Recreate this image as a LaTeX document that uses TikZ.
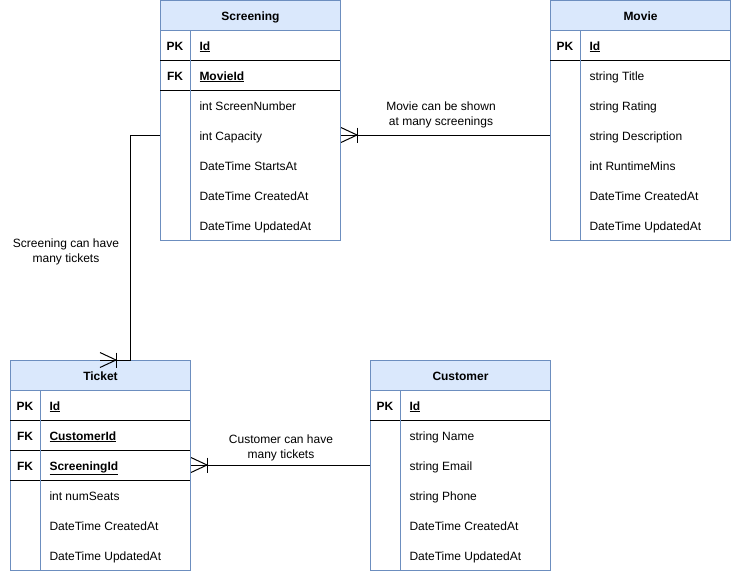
\documentclass[tikz,border=0pt]{standalone}
\usepackage{fontspec}
\setmainfont{Liberation Sans}
\usetikzlibrary{calc,positioning}

\newcommand{\erfont}{\fontsize{12}{15}\selectfont}

\begin{document}
\begin{tikzpicture}[
  x=1pt, y=-1pt,
  line width=1pt,
  crowfoot/.pic={
    \draw (0,-7.5) -- (16,0) -- (0,7.5);
    \draw (16,-7.5) -- (16,7.5);
  }
]

  \path[use as bounding box] (0,0) rectangle (731,571);

  \definecolor{hdrfill}{HTML}{DAE8FC}
  \definecolor{hdrline}{HTML}{6C8EBF}

  \tikzstyle{tablebox}=[draw=hdrline,fill=white,rectangle,anchor=north west,minimum width=180pt,inner sep=0pt]
  \tikzstyle{headbox}=[draw=hdrline,fill=hdrfill,rectangle,anchor=north,minimum width=180pt,minimum height=30pt,inner sep=0pt,text height=11pt,text depth=1pt,font=\erfont\bfseries]
  \tikzstyle{keynode}=[inner sep=0pt,text height=11pt,text depth=1pt,font=\erfont\bfseries]
  \tikzstyle{keyfield}=[anchor=west,inner sep=0pt,text height=11pt,text depth=1pt,font=\erfont\bfseries]
  \tikzstyle{fieldnode}=[anchor=west,inner sep=0pt,text height=11pt,text depth=1pt,font=\erfont]
  \tikzstyle{keyline}=[draw,black]
  \tikzstyle{coldiv}=[draw,hdrline]
  \tikzstyle{relation}=[draw,black]
  \tikzstyle{rellab}=[align=center,inner sep=0pt,font=\erfont]

  % Screening
  \node[tablebox,minimum height=240pt] (scr) at (160,0) {};
  \node[headbox] (scrhead) at (scr.north) {Screening};
  \node[keynode] (scrpk) at (175,45) {PK};
  \node[keyfield] (scrid) at (199,45) {\underline{Id}};
  \node[keynode] (scrfk) at (175,75) {FK};
  \node[keyfield] (scrmovie) at (199,75) {\underline{MovieId}};
  \node[fieldnode] (scrnum) at (199,105) {int ScreenNumber};
  \node[fieldnode] (scrcap) at (199,135) {int Capacity};
  \node[fieldnode] (scrstart) at (199,165) {DateTime StartsAt};
  \node[fieldnode] (scrcreated) at (199,195) {DateTime CreatedAt};
  \node[fieldnode] (scrupdated) at (199,225) {DateTime UpdatedAt};
  \draw[keyline] (160,60) -- (340,60);
  \draw[keyline] (160,90) -- (340,90);
  \draw[coldiv] (190,30) -- (190,240);

  % Movie
  \node[tablebox,minimum height=240pt] (mv) at (550,0) {};
  \node[headbox] (mvhead) at (mv.north) {Movie};
  \node[keynode] (mvpk) at (565,45) {PK};
  \node[keyfield] (mvid) at (589,45) {\underline{Id}};
  \node[fieldnode] (mvtitle) at (589,75) {string Title};
  \node[fieldnode] (mvrating) at (589,105) {string Rating};
  \node[fieldnode] (mvdesc) at (589,135) {string Description};
  \node[fieldnode] (mvruntime) at (589,165) {int RuntimeMins};
  \node[fieldnode] (mvcreated) at (589,195) {DateTime CreatedAt};
  \node[fieldnode] (mvupdated) at (589,225) {DateTime UpdatedAt};
  \draw[keyline] (550,60) -- (730,60);
  \draw[coldiv] (580,30) -- (580,240);

  % Ticket
  \node[tablebox,minimum height=210pt] (tk) at (10,360) {};
  \node[headbox] (tkhead) at (tk.north) {Ticket};
  \node[keynode] (tkpk) at (25,405) {PK};
  \node[keyfield] (tkid) at (49,405) {\underline{Id}};
  \node[keynode] (tkfk1) at (25,435) {FK};
  \node[keyfield] (tkcust) at (49,435) {\underline{CustomerId}};
  \node[keynode] (tkfk2) at (25,465) {FK};
  \node[keyfield] (tkscr) at (49,465) {\underline{ScreeningId}};
  \node[fieldnode] (tkseats) at (49,495) {int numSeats};
  \node[fieldnode] (tkcreated) at (49,525) {DateTime CreatedAt};
  \node[fieldnode] (tkupdated) at (49,555) {DateTime UpdatedAt};
  \draw[keyline] (10,420) -- (190,420);
  \draw[keyline] (10,450) -- (190,450);
  \draw[keyline] (10,480) -- (190,480);
  \draw[coldiv] (40,390) -- (40,570);

  % Customer
  \node[tablebox,minimum height=210pt] (cu) at (370,360) {};
  \node[headbox] (cuhead) at (cu.north) {Customer};
  \node[keynode] (cupk) at (385,405) {PK};
  \node[keyfield] (cuid) at (409,405) {\underline{Id}};
  \node[fieldnode] (cuname) at (409,435) {string Name};
  \node[fieldnode] (cuemail) at (409,465) {string Email};
  \node[fieldnode] (cuphone) at (409,495) {string Phone};
  \node[fieldnode] (cucreated) at (409,525) {DateTime CreatedAt};
  \node[fieldnode] (cuupdated) at (409,555) {DateTime UpdatedAt};
  \draw[keyline] (370,420) -- (550,420);
  \draw[coldiv] (400,390) -- (400,570);

  % relations
  \coordinate (tkend) at (100,360);

  \draw[relation] (mv.west |- scrcap) -- (scr.east |- scrcap);
  \pic at (scr.east |- scrcap) {crowfoot};
  \node[rellab] (mvlab) at (441,114.5) {Movie can be shown\\at many screenings};

  \draw[relation] (scr.west |- scrcap) -- ++(-30,0) |- (tkend);
  \pic at (tkend) {crowfoot};
  \node[rellab] (scrlab) at (66,251.5) {Screening can have\\many tickets};

  \draw[relation] (cu.west |- tkscr) -- (tk.east |- tkscr);
  \pic at (tk.east |- tkscr) {crowfoot};
  \node[rellab] (culab) at (281,447.5) {Customer can have\\many tickets};

\end{tikzpicture}
\end{document}
